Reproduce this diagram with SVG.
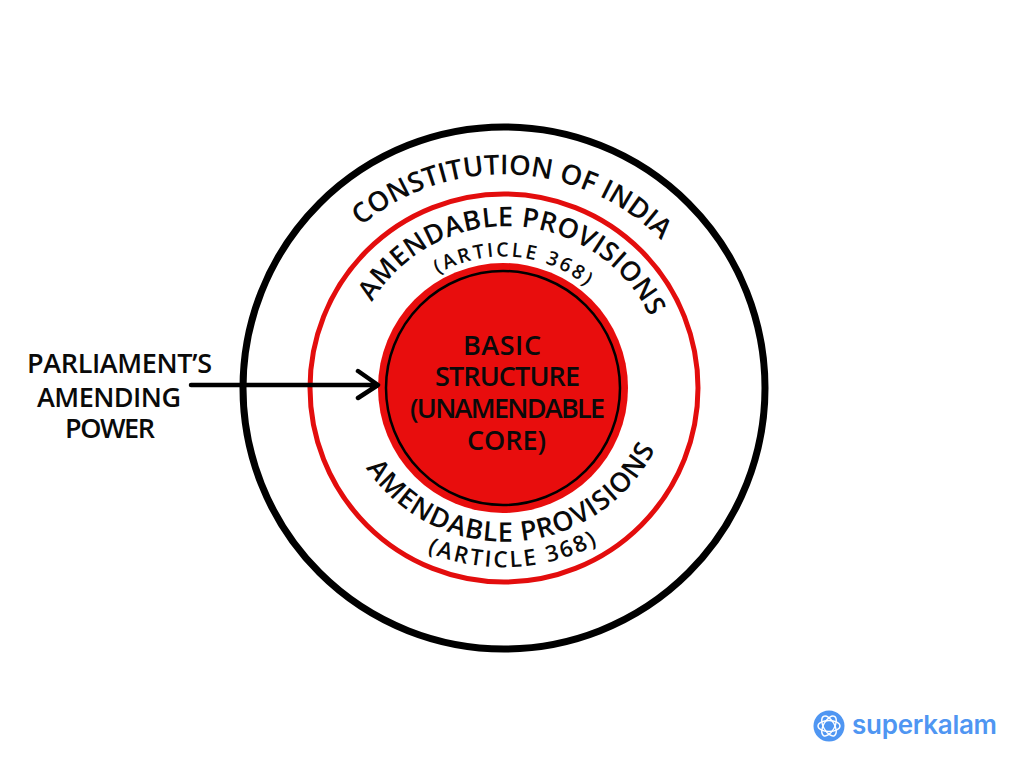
<svg xmlns="http://www.w3.org/2000/svg" width="1024" height="768" viewBox="0 0 1024 768">
<style>
.t{font-family:"Open Sans","Liberation Sans",sans-serif;font-weight:600;fill:#0a0a0a}
.ring{fill:none}
</style>
<defs>
<path id="p1" d="M361 226A222 222 0 0 1 680 262"/>
<path id="p2" d="M372 302A158 158 0 0 1 660 345"/>
<path id="p3" d="M438 274A130 130 0 0 1 604 304"/>
<path id="p4" d="M366 468A168 168 0 0 0 665 425"/>
<path id="p5" d="M427 552A200 200 0 0 0 620 530"/>
</defs>
<rect width="1024" height="768" fill="#fff"/>
<g id="constitution">
<circle class="ring" cx="504" cy="388" r="261" stroke="#000" stroke-width="7"/>
<text class="t" font-size="27.5"><textPath href="#p1" textLength="330" lengthAdjust="spacing">CONSTITUTION OF INDIA</textPath></text>
</g>
<g id="amendable">
<circle class="ring" cx="504" cy="388" r="194" stroke="#e30d0d" stroke-width="5"/>
<text class="t" font-size="27"><textPath href="#p2" textLength="340" lengthAdjust="spacing">AMENDABLE PROVISIONS</textPath></text>
<text class="t" font-size="19.5"><textPath href="#p3" textLength="158" lengthAdjust="spacing">(ARTICLE 368)</textPath></text>
<text class="t" font-size="27"><textPath href="#p4" textLength="349" lengthAdjust="spacing">AMENDABLE PROVISIONS</textPath></text>
<text class="t" font-size="22.5"><textPath href="#p5" textLength="176" lengthAdjust="spacing">(ARTICLE 368)</textPath></text>
</g>
<g id="core">
<circle cx="503" cy="388" r="125" fill="#e80d0d"/>
<circle class="ring" cx="503" cy="388" r="117" stroke="#000" stroke-width="2.5"/>
<text class="t" font-size="27" x="463" y="355" textLength="78">BASIC</text>
<text class="t" font-size="27" x="435" y="386" textLength="145">STRUCTURE</text>
<text class="t" font-size="27" x="410" y="418" textLength="195">(UNAMENDABLE</text>
<text class="t" font-size="27" x="467" y="450" textLength="79">CORE)</text>
</g>
<g id="connectors">
<path d="M191 385H376M358 371L378 385L358 398" fill="none" stroke="#000" stroke-width="4.5" stroke-linecap="round" stroke-linejoin="round"/>
</g>
<g id="parliament">
<text class="t" font-size="27" x="27" y="373" textLength="185">PARLIAMENT’S</text>
<text class="t" font-size="27" x="37" y="407" textLength="144">AMENDING</text>
<text class="t" font-size="27" x="65" y="438" textLength="90">POWER</text>
</g>
<g id="logo">
<circle cx="829" cy="726" r="15.5" fill="#4f96f2"/>
<g fill="none" stroke="#fff" stroke-width="1.4">
<ellipse cx="829" cy="726" rx="11" ry="5.5"/>
<ellipse cx="829" cy="726" rx="11" ry="5.5" transform="rotate(60 829 726)"/>
<ellipse cx="829" cy="726" rx="11" ry="5.5" transform="rotate(120 829 726)"/>
</g>
<text x="852" y="733.5" font-family="Inter,'Open Sans',sans-serif" font-weight="600" font-size="26" fill="#4f96f2" textLength="145">superkalam</text>
</g>
</svg>
